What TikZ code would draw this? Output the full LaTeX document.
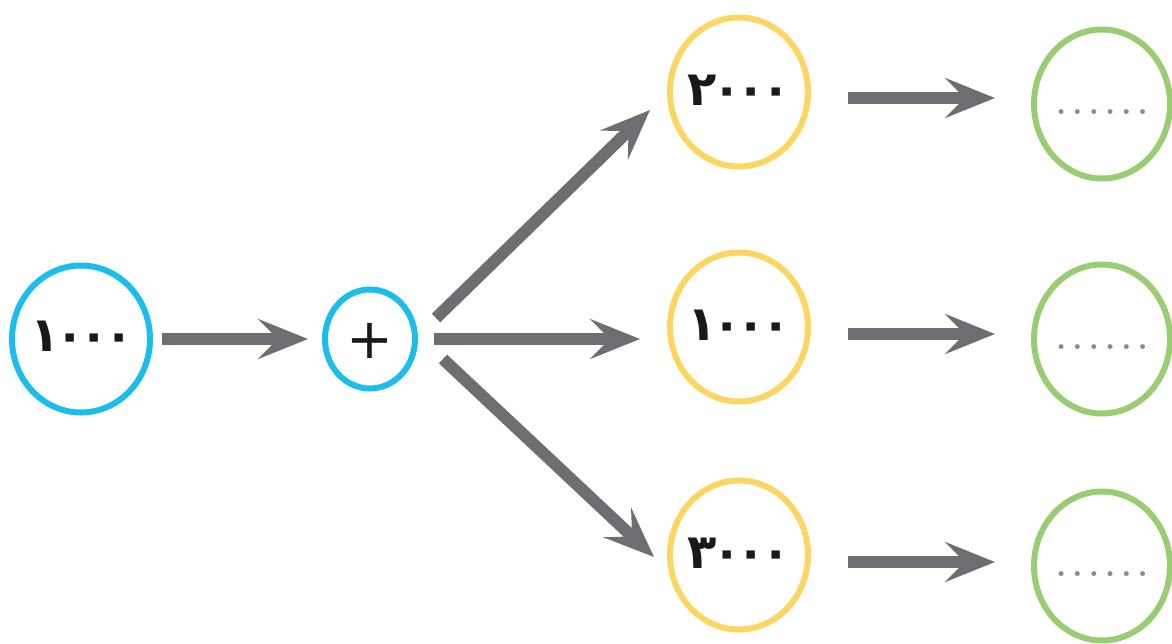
\documentclass[tikz,border=0pt]{standalone}
\usepackage{fontspec}
\usetikzlibrary{shapes.geometric,arrows.meta}
\newfontfamily\arabicfont[Script=Arabic,LetterSpace=-10]{DejaVu Sans Bold}
\newfontfamily\plusfont{DejaVu Sans}
\definecolor{cblue}{HTML}{1BBDEB}
\definecolor{cyellow}{HTML}{FDD662}
\definecolor{cgreen}{HTML}{99CC73}
\definecolor{cgray}{HTML}{6D6E71}
\definecolor{cdots}{HTML}{8A8B90}
\tikzset{
  oval/.style={ellipse, line width=6pt, inner sep=0pt, outer sep=0pt},
  blueoval/.style={oval, draw=cblue, minimum width=138pt, minimum height=147pt},
  plusoval/.style={oval, draw=cblue, minimum width=90pt, minimum height=99pt},
  yeloval/.style={oval, draw=cyellow, minimum width=138pt, minimum height=149pt},
  greenoval/.style={oval, draw=cgreen, minimum width=136pt, minimum height=149pt},
  arr/.style={draw=cgray, line width=12pt, -{Stealth[length=50pt,width=40pt,inset=20pt,fill=cgray]}},
  num/.style={font=\arabicfont\fontsize{48}{48}\selectfont, text=black!90, inner sep=0pt},
  dots/.style={font=\fontsize{34}{34}\selectfont\bfseries, text=cdots}
}
\begin{document}
\begin{tikzpicture}[x=1pt,y=-1pt]
\useasboundingbox (0,0) rectangle (1172,643);
\node[blueoval] (a) at (81,339) {};
\node[num] (ta) at (82,336) {١٠٠٠};
\node[plusoval] (p) at (370,339) {};
\node[font=\plusfont\fontsize{56}{56}\selectfont, text=black!90, inner sep=0pt] (tp) at (370,341) {+};
\node[yeloval] (y1) at (739,92) {};
\node[yeloval] (y2) at (739,327) {};
\node[yeloval] (y3) at (739,555) {};
\node[num] (t1) at (739,90) {٢٠٠٠};
\node[num] (t2) at (739,325) {١٠٠٠};
\node[num] (t3) at (739,553) {٣٠٠٠};
\node[greenoval] (g1) at (1102,104) {};
\node[greenoval] (g2) at (1102,339) {};
\node[greenoval] (g3) at (1102,566) {};
\foreach \g in {g1,g2,g3}{
  \node[dots] at ([yshift=-8pt]\g.center) {.\,.\,.\,.\,.\,.};
}
\coordinate (s0) at (162,339); \coordinate (e0) at (308,339);
\coordinate (s1) at (436,318); \coordinate (e1) at (650,110);
\coordinate (s2) at (434,339); \coordinate (e2) at (640,339);
\coordinate (s3) at (443,359); \coordinate (e3) at (654,557);
\coordinate (u1) at (848,98);  \coordinate (v1) at (995,98);
\coordinate (u2) at (848,334); \coordinate (v2) at (995,334);
\coordinate (u3) at (848,562); \coordinate (v3) at (995,562);
\draw[arr] (s0) -- (e0);
\draw[arr] (s1) -- (e1);
\draw[arr] (s2) -- (e2);
\draw[arr] (s3) -- (e3);
\draw[arr] (u1) -- (v1);
\draw[arr] (u2) -- (v2);
\draw[arr] (u3) -- (v3);
\end{tikzpicture}
\end{document}
